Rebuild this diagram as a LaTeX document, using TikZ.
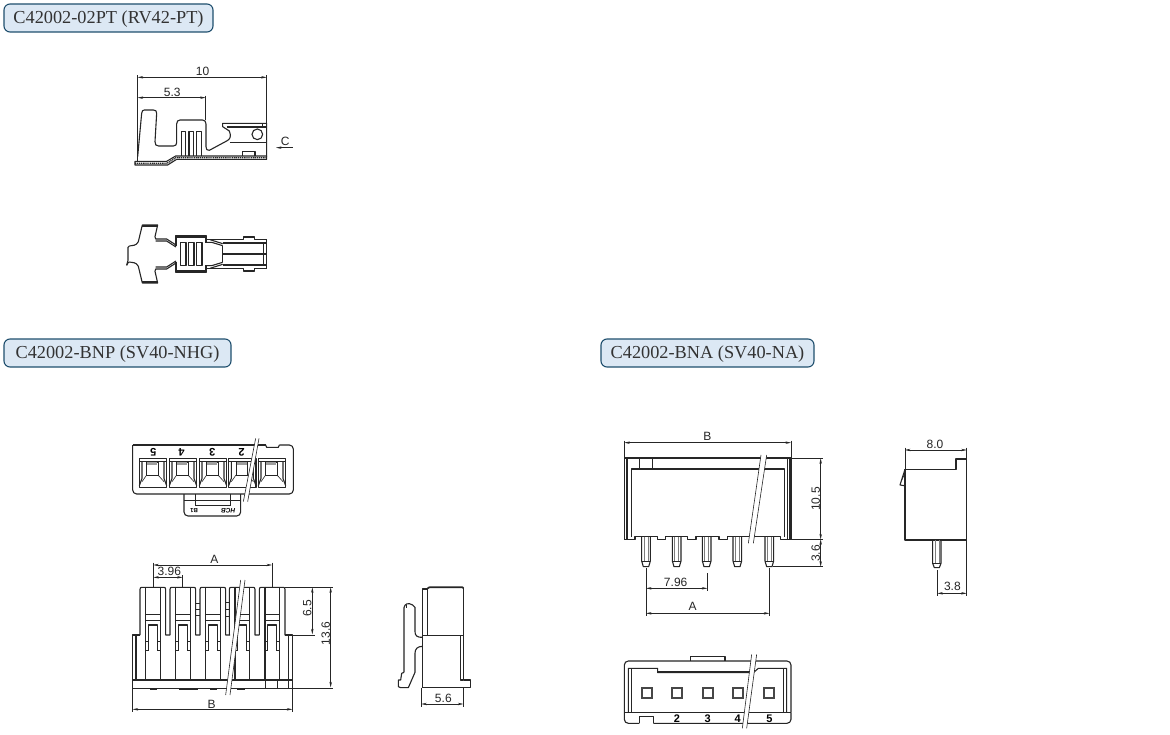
\documentclass[tikz,border=0pt]{standalone}
\usepackage{fontspec}
\setmainfont{Liberation Serif}
\setsansfont{Liberation Sans}
\usetikzlibrary{arrows.meta}

\definecolor{inkline}{HTML}{262626}
\definecolor{boxfill}{HTML}{DCE8F4}
\definecolor{boxline}{HTML}{1F4F6E}

\tikzset{
  outline/.style={draw=inkline, line width=1.1pt, line join=round},
  heavy/.style={draw=inkline, line width=1.7pt, line join=round},
  fineline/.style={draw=inkline, line width=.6pt},
  dimline/.style={draw=inkline, line width=.5pt, {Stealth[length=5.5pt,width=2.4pt]}-{Stealth[length=5.5pt,width=2.4pt]}},
  extline/.style={draw=inkline, line width=.45pt},
  titlebox/.style={rectangle, draw=boxline, fill=boxfill, line width=1.1pt, rounded corners=6pt, minimum height=28pt, inner sep=0pt, text height=12pt, text depth=0pt, font=\fontsize{18.3}{20}\selectfont, text=black!80},
  dimtext/.style={inner sep=0pt, font=\sffamily\fontsize{12}{13}\selectfont, text=black!85},
  pinno/.style={inner sep=0pt, font=\sffamily\bfseries\fontsize{11}{12}\selectfont, text=black}
}

% break mark: white band between two slanted lines
\newcommand{\breakmark}[4]{
  \fill[white] (#1) -- (#2) -- (#4) -- (#3) -- cycle;
  \draw[fineline] (#1) -- (#3);
  \draw[fineline] (#2) -- (#4);
}

% half of the terminal, top view
\newcommand{\termhalf}{
  \draw[outline] (58,93) .. controls (68,90) and (78,94) .. (85,80) -- (97,30) -- (143,30) -- (135,65) -- (137,72) -- (170,72) -- (198,90);
  \draw[heavy] (97,34) -- (143,34);
  \draw[outline] (137,78) -- (170,78) -- (198,96);
  \draw[outline] (198,92) -- (198,62) -- (288,62) -- (288,84);
  \draw[heavy] (198,67) -- (288,67);
  \draw[outline] (288,74) -- (400,74) -- (400,66) -- (433,66) -- (433,74) -- (470,74);
  \draw[outline] (288,82) -- (305,82) -- (338,92);
  \draw[outline] (300,74) -- (338,86);
  \draw[outline] (338,92) -- (338,117);
  \draw[outline] (338,84) -- (470,84);
}

% one cell of the housing, front view
\newcommand{\frontcell}{
  \draw[outline] (0,143) -- (0,6) .. controls (0,2) and (2,0) .. (5,0) -- (72,0) .. controls (75,0) and (77,2) .. (77,6) -- (77,143) -- (90,143);
  \draw[outline] (17,0) -- (17,278);
  \draw[outline] (61,0) -- (61,278);
  \draw[fineline] (17,81) -- (61,81);
  \draw[fineline] (17,100) -- (61,100);
  \draw[outline] (25,190) -- (25,113) -- (52,113) -- (52,190);
  \draw[fineline] (17,163) -- (25,163);
  \draw[fineline] (17,190) -- (25,190);
  \draw[fineline] (52,163) -- (61,163);
  \draw[fineline] (52,190) -- (61,190);
}

% one contact pin of the header, seen from the side
\newcommand{\headerpin}{
  \draw[outline] (-13,335) -- (-13,408) -- (-8,425) -- (8,425) -- (13,408) -- (13,335);
  \draw[draw=inkline!60, line width=.6pt] (-6,335) -- (-6,408);
  \draw[draw=inkline!60, line width=.6pt] (6,335) -- (6,408);
  \draw[fineline] (-13,408) -- (13,408);
}

\begin{document}
\begin{tikzpicture}[x=1pt, y=-1pt]
  \useasboundingbox (0,0) rectangle (1170,735);
  \fill[white] (0,0) rectangle (1170,735);

  \node [titlebox, minimum width=209pt] (title_pt) at (108.5,18) {C42002-02PT (RV42-PT)};
  \node [titlebox, minimum width=227pt] (title_bnp) at (117.5,353) {C42002-BNP (SV40-NHG)};
  \node [titlebox, minimum width=213pt] (title_bna) at (707.5,353) {C42002-BNA (SV40-NA)};

  % terminal, side view
  \begin{scope}[scale=1/3]
    \draw[outline] (413,470) -- (425,340) .. controls (426,333) and (428,330) .. (433,330) -- (460,330) .. controls (467,330) and (470,333) .. (470,340) -- (465,425) .. controls (465,434) and (468,438) .. (476,438) -- (520,438) .. controls (527,438) and (530,434) .. (530,428) -- (530,372) .. controls (530,364) and (534,360) .. (540,360) -- (607,360) .. controls (614,360) and (618,364) .. (618,372) -- (618,440) .. controls (618,448) and (621,452) .. (628,451) -- (680,423) .. controls (690,418) and (695,410) .. (688,393) -- (668,380) -- (668,370) -- (800,370) -- (800,470);
    \draw[outline] (680,381) -- (800,381);
    \draw[fineline] (787,370) -- (787,381);
    \draw[outline] (772,403) circle (16);
    \draw[fineline] (690,428) -- (800,428);
    \draw[outline] (545,468) -- (545,395) -- (556,395) -- (556,468);
    \draw[outline] (567,468) -- (567,395) -- (580,395) -- (580,468);
    \draw[outline] (590,468) -- (590,395) -- (605,395) -- (605,468);
    \draw[outline] (727,468) -- (727,455) -- (765,455) -- (765,468);
    \draw[outline] (405,484) -- (500,484) -- (527,468) -- (800,468) -- (800,478) -- (530,478) -- (503,495) -- (405,495) -- cycle;
    \draw[draw=inkline, line width=1.3pt, dash pattern=on 1.2pt off .7pt] (405,490) -- (501,490) -- (528,473) -- (800,473);
    \draw[outline] (413,470) -- (413,484);

    \draw[dimline] (413,232) -- (800,232);
    \draw[dimline] (413,293) -- (617,293);
    \draw[extline] (413,226) -- (413,470);
    \draw[extline] (800,226) -- (800,370);
    \draw[extline] (617,287) -- (617,360);
    \node [dimtext] (dim_ten) at (608,213) {10};
    \node [dimtext] (dim_fivethree) at (517,277) {5.3};
    \node [dimtext] (dim_c) at (856,423) {C};
    \draw[draw=inkline, line width=.5pt, -{Stealth[length=5.5pt,width=2.4pt]}] (878,443) -- (828,443);
  \end{scope}

  % terminal, top view
  \begin{scope}[shift={(110,215)}, scale=1/3]
    \termhalf
    \begin{scope}[shift={(0,234)}, yscale=-1]
      \termhalf
    \end{scope}
    \draw[outline] (58,93) -- (54,97) -- (54,136) -- (50,151);
    \draw[outline] (50,151) .. controls (52,145) and (55,141) .. (58,141);
    \draw[outline] (470,74) -- (470,160);
    \draw[fineline] (460,84) -- (460,150);
    \draw[outline] (338,117) -- (470,117);
    \draw[outline] (212,83) rectangle (228,152);
    \draw[outline] (236,83) rectangle (252,152);
    \draw[outline] (260,83) rectangle (276,152);
  \end{scope}

  % housing BNP, end view
  \begin{scope}[shift={(120,430)}, scale=1/3]
    \draw[outline, rounded corners=4pt] (192,192) -- (192,258) -- (362,258) -- (362,192);
    \draw[fineline] (192,212) -- (362,212);
    \draw[fineline] (225,192) -- (225,225) -- (330,225) -- (330,192);
    \draw[outline, rounded corners=4pt] (38,45) -- (38,192) -- (520,192) -- (520,45) -- (478,45);
    \draw[outline, rounded corners=4pt] (38,45) -- (437,45);
    \draw[outline] (437,45) -- (440,52) -- (475,52) -- (478,45);
    \foreach \cx in {58,148,238,326,415} {
      \begin{scope}[shift={(\cx,85)}]
        \draw[outline] (0,0) rectangle (82,87);
        \draw[fineline] (0,8) -- (82,8);
        \draw[outline] (8,8) -- (8,60) -- (0,82);
        \draw[outline] (74,8) -- (74,60) -- (82,82);
        \draw[fineline] (22,13) rectangle (56,50);
        \fill[inkline!45] (24,11) rectangle (54,19);
        \draw[fineline] (22,50) -- (8,70);
        \draw[fineline] (56,50) -- (74,70);
      \end{scope}
    }
    \node [pinno, rotate=180] (num_five) at (100,67) {5};
    \node [pinno, rotate=180] (num_four) at (185,67) {4};
    \node [pinno, rotate=180] (num_three) at (277,67) {3};
    \node [pinno, rotate=180] (num_two) at (365,67) {2};
    \node [pinno, rotate=180, font=\sffamily\bfseries\fontsize{6}{7}\selectfont] (mark_bone) at (222,241) {B1};
    \node [pinno, rotate=180, font=\sffamily\bfseries\itshape\fontsize{6.5}{7}\selectfont] (mark_hcb) at (325,242) {HCB};
    \breakmark{417,25}{407,25}{383,215}{370,215}
  \end{scope}

  % housing BNP, front view
  \begin{scope}[shift={(120,545)}, scale=1/3]
    \foreach \cx in {60,150,240,328,418} {
      \begin{scope}[shift={(\cx,127)}]
        \frontcell
      \end{scope}
    }
    \draw[outline] (495,270) -- (517,270) -- (517,430) -- (38,430) -- (38,270) -- (60,270);
    \draw[outline] (48,270) -- (48,405);
    \draw[outline] (505,270) -- (505,430);
    \draw[outline] (38,405) -- (517,405);
    \draw[outline] (436,405) -- (436,430);
    \draw[outline] (472,405) -- (472,430);
    \draw[fineline] (226,175) -- (240,175);
    \draw[fineline] (226,192) -- (240,192);
    \draw[fineline] (226,210) -- (240,210);
    \draw[fineline] (315,172) -- (328,172);
    \draw[fineline] (315,192) -- (328,192);
    \draw[fineline] (315,215) -- (328,215);
    \draw[heavy] (90,432) -- (110,432);
    \draw[heavy] (178,432) -- (235,432);
    \draw[heavy] (270,432) -- (290,432);
    \draw[heavy] (350,432) -- (375,432);
    \breakmark{375,105}{362,105}{330,450}{317,450}

    \draw[dimline] (100,60) -- (456,60);
    \draw[dimline] (100,97) -- (188,97);
    \draw[dimline] (577,127) -- (577,268);
    \draw[dimline] (632,127) -- (632,427);
    \draw[dimline] (38,493) -- (517,493);
    \draw[extline] (100,53) -- (100,127);
    \draw[extline] (456,53) -- (456,127);
    \draw[extline] (188,91) -- (188,127);
    \draw[extline] (495,127) -- (640,127);
    \draw[extline] (517,270) -- (585,270);
    \draw[extline] (517,430) -- (640,430);
    \draw[extline] (38,430) -- (38,500);
    \draw[extline] (517,430) -- (517,500);
    \node [dimtext] (dim_a) at (283,43) {A};
    \node [dimtext] (dim_pitch) at (148,80) {3.96};
    \node [dimtext, rotate=90] (dim_sixfive) at (562,190) {6.5};
    \node [dimtext, rotate=90] (dim_thirteen) at (617,265) {13.6};
    \node [dimtext] (dim_b) at (275,478) {B};
  \end{scope}

  % housing BNP, side view
  \begin{scope}[shift={(380,575)}, scale=1/3]
    \draw[outline] (128,338) -- (128,42) -- (143,42);
    \draw[heavy] (143,40) -- (148,37) -- (248,37) -- (250,40);
    \draw[outline] (143,40) -- (143,182);
    \draw[outline] (250,40) -- (250,315) -- (272,315) -- (272,338) -- (250,338);
    \draw[outline] (128,182) -- (250,182);
    \draw[outline] (242,182) -- (242,315) -- (250,315);
    \draw[outline] (128,338) -- (250,338);
    \draw[outline] (72,292) -- (72,98) .. controls (74,86) and (85,82) .. (98,90) -- (105,97) -- (105,170) .. controls (105,182) and (112,188) .. (128,187);
    \draw[outline] (128,214) .. controls (112,214) and (105,222) .. (105,235) -- (105,292) -- (85,338) -- (62,338) -- (55,335) -- (55,315) -- (62,315) -- (65,295) -- (72,292);
    \draw[fineline] (80,90) -- (80,100);

    \draw[dimline] (124,387) -- (250,387);
    \draw[extline] (124,338) -- (124,395);
    \draw[extline] (250,338) -- (250,395);
    \node [dimtext] (dim_fivesix) at (190,370) {5.6};
  \end{scope}

  % header BNA, side view
  \begin{scope}[shift={(610,425)}, scale=1/3]
    \draw[outline] (43,100) rectangle (543,343);
    \draw[fineline] (49,100) -- (49,343);
    \draw[fineline] (53,100) -- (53,343);
    \draw[fineline] (533,100) -- (533,343);
    \draw[fineline] (538,100) -- (538,343);
    \draw[heavy] (43,100) -- (543,100);
    \draw[outline] (65,335) -- (65,132) -- (523,132) -- (523,335);
    \draw[outline] (88,100) -- (88,132);
    \draw[outline] (128,100) -- (128,132);
    \fill[white] (54,336) rectangle (532,350);
    \draw[outline] (43,343) -- (75,343) -- (75,335) -- (143,335) -- (143,343) -- (167,343) -- (167,335) -- (233,335) -- (233,343) -- (258,343) -- (258,335) -- (327,335) -- (327,343) -- (352,343) -- (352,335) -- (512,335) -- (512,343) -- (543,343);
    \foreach \px in {108,200,290,382,478} {
      \begin{scope}[shift={(\px,0)}]
        \headerpin
      \end{scope}
    }
    \draw[heavy] (285,98) -- (300,98);
    \draw[heavy] (378,98) -- (395,98);
    \draw[heavy] (470,98) -- (485,98);
    \breakmark{470,90}{453,90}{430,355}{415,355}

    \draw[dimline] (43,53) -- (543,53);
    \draw[dimline] (632,100) -- (632,343);
    \draw[dimline] (632,343) -- (632,425);
    \draw[dimline] (108,490) -- (292,490);
    \draw[dimline] (108,565) -- (478,565);
    \draw[extline] (43,47) -- (43,100);
    \draw[extline] (543,47) -- (543,100);
    \draw[extline] (543,100) -- (640,100);
    \draw[extline] (543,343) -- (640,343);
    \draw[extline] (490,425) -- (640,425);
    \draw[extline] (108,430) -- (108,572);
    \draw[extline] (292,445) -- (292,497);
    \draw[extline] (478,430) -- (478,572);
    \node [dimtext] (dim_bb) at (292,35) {B};
    \node [dimtext, rotate=90] (dim_tenfive) at (617,222) {10.5};
    \node [dimtext, rotate=90] (dim_threesix) at (617,385) {3.6};
    \node [dimtext] (dim_pitchb) at (197,472) {7.96};
    \node [dimtext] (dim_aa) at (248,545) {A};
  \end{scope}

  % header BNA, end view
  \begin{scope}[shift={(885,430)}, scale=1/3]
    \draw[outline] (60,118) -- (213,118) -- (213,87) -- (245,87) -- (245,330) -- (60,330) -- cycle;
    \draw[outline] (60,118) -- (45,165) -- (58,167);
    \draw[fineline] (60,130) -- (50,150);
    \draw[outline] (143,330) -- (143,400) -- (148,413) -- (163,413) -- (168,400) -- (168,330);
    \draw[fineline] (143,400) -- (168,400);
    \draw[draw=inkline!60, line width=.6pt] (150,330) -- (150,400);
    \draw[draw=inkline!60, line width=.6pt] (162,330) -- (162,400);

    \draw[dimline] (60,60) -- (245,60);
    \draw[dimline] (157,490) -- (245,490);
    \draw[extline] (60,53) -- (60,118);
    \draw[extline] (245,53) -- (245,87);
    \draw[extline] (157,420) -- (157,497);
    \draw[extline] (245,330) -- (245,497);
    \node [dimtext] (dim_eight) at (150,42) {8.0};
    \node [dimtext] (dim_threeeight) at (202,470) {3.8};
  \end{scope}

  % header BNA, top view
  \begin{scope}[shift={(610,645)}, scale=1/3]
    \draw[outline] (242,48) -- (242,35) -- (345,35) -- (345,48);
    \draw[outline, rounded corners=4pt] (43,203) -- (43,48) -- (543,48) -- (543,203);
    \draw[outline, rounded corners=4pt] (43,203) -- (43,235) -- (88,235);
    \draw[outline] (88,235) -- (88,215) -- (130,215) -- (130,235);
    \draw[outline, rounded corners=4pt] (130,235) -- (543,235) -- (543,203);
    \draw[outline] (43,203) -- (543,203);
    \draw[outline] (55,203) -- (55,70) -- (143,70) -- (143,83) -- (430,83) -- (445,70) -- (530,70) -- (530,203);
    \draw[heavy] (143,80) -- (430,80);
    \draw[fineline] (65,70) -- (65,203);
    \draw[fineline] (520,70) -- (520,203);
    \foreach \sx in {110,201,293,383,477} {
      \draw[draw=inkline!85, line width=1.7pt] (\sx-15,130) rectangle (\sx+15,160);
    }
    \node [pinno] (num_bb_two) at (201,220) {2};
    \node [pinno] (num_bb_three) at (293,220) {3};
    \node [pinno] (num_bb_four) at (383,220) {4};
    \node [pinno] (num_bb_five) at (478,220) {5};
    \breakmark{440,28}{425,28}{410,250}{397,250}
  \end{scope}
\end{tikzpicture}
\end{document}
